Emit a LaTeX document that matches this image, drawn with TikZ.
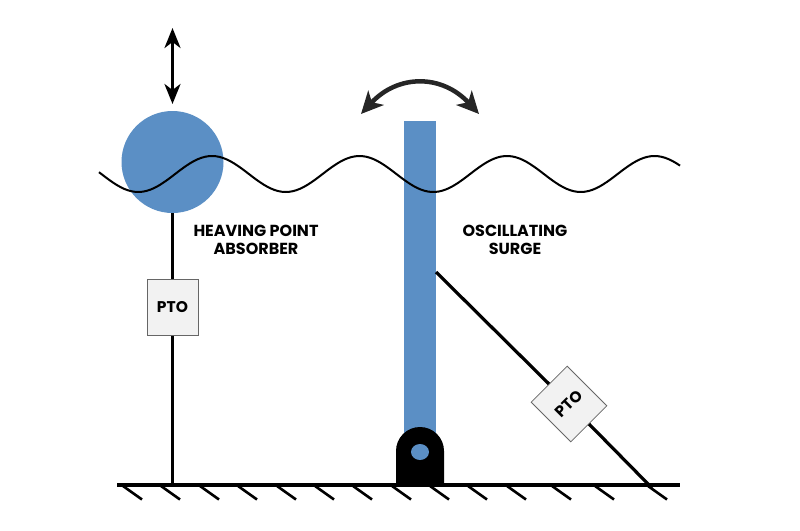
\documentclass[tikz,border=0pt]{standalone}
\usepackage{fontspec}
\setmainfont{Poppins}
\usetikzlibrary{arrows.meta,shapes.geometric}
\definecolor{floatblue}{HTML}{5B8FC5}
\tikzset{
    ptobox/.style={draw=black!60, line width=0.8pt, fill=black!5, minimum width=51pt, minimum height=56pt, inner sep=0pt, font=\bfseries\fontsize{15.5}{18}\selectfont},
    caption/.style={align=center, inner sep=0pt, font=\bfseries\fontsize{16}{18}\selectfont},
    rod/.style={line width=3.2pt},
    motion/.style={line width=3pt, {Stealth[length=20pt, width=16pt, inset=6pt]}-{Stealth[length=20pt, width=16pt, inset=6pt]}}
}
\begin{document}
\begin{tikzpicture}[x=1pt, y=-1pt]
    \useasboundingbox (0,0) rectangle (800,530);
    \node[circle, fill=floatblue, minimum size=102pt, inner sep=0pt] (float) at (172.5,162) {};
    \node[fill=floatblue, minimum width=32pt, minimum height=330pt, inner sep=0pt, anchor=north] (flap) at (420,120.5) {};
    \draw[line width=2pt] plot[domain=99:680, samples=160, smooth] (\x, {174-18*cos((\x-212)/147.5*360)});
    \coordinate (top) at (172.5,28);
    \coordinate (bottom) at (172.5,104);
    \draw[motion] (top) -- (bottom);
    \coordinate (swingl) at (361,114);
    \coordinate (swingr) at (479,114);
    \draw[motion, black!85, line width=4.5pt, {Stealth[length=22pt, width=21pt, inset=6pt]}-{Stealth[length=22pt, width=21pt, inset=6pt]}] (swingl) .. controls (398,74) and (442,74) .. (swingr);
    \coordinate (groundl) at (117,485);
    \coordinate (groundr) at (680,485);
    \coordinate (foota) at (172.5,485);
    \coordinate (hinge) at (436,272);
    \coordinate (footb) at (652,488);
    \node[ptobox] (ptoa) at (172.5,307.5) {PTO};
    \node[ptobox, rotate=45] (ptob) at (569,404) {PTO};
    \draw[rod] (float.south) -- (ptoa.north);
    \draw[rod] (ptoa.south) -- (foota);
    \draw[rod] (hinge) -- (ptob.north);
    \draw[rod] (ptob.south) -- (footb);
    \fill (396,485) -- (396,451) arc[start angle=180, end angle=360, radius=24] -- (444,485) -- cycle;
    \node[ellipse, fill=floatblue, minimum width=18pt, minimum height=16pt, inner sep=0pt] (pin) at (420,452) {};
    \draw[rod] (groundl) -- (groundr);
    \foreach \hatch in {123,161,200,238,277,315,353,392,430,468,507,552,595,648}
    {
        \draw[line width=2.6pt] (\hatch,486) -- ++(19,13.5);
    }
    \node[caption] (heave) at (256,240) {HEAVING POINT\\ABSORBER};
    \node[caption] (surge) at (515,240) {OSCILLATING\\SURGE};
\end{tikzpicture}
\end{document}
